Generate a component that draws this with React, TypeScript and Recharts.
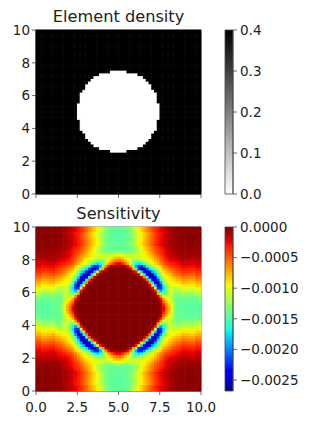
import { BarChart, Bar, ScatterChart, Scatter, XAxis, YAxis, ReferenceArea } from "recharts";

const GRID = 60;
const FONT = "DejaVu Sans";
const INK = "#222";
const SPINE = "#444";

const xTicksBottom = [0, 2.5, 5, 7.5, 10];
const yTicks = [0, 2, 4, 6, 8, 10];
const densityBarTicks = [0, 0.1, 0.2, 0.3, 0.4];
const sensBarTicks = [0, -0.0005, -0.001, -0.0015, -0.002, -0.0025];

const DENSITY_MAX = 0.4;
const SENS_MIN = -0.00268;

// half width (in cells) of the void in each row, going from the middle row outwards
const voidHalfWidths = [15, 15, 15, 14, 14, 14, 14, 13, 12, 12, 11, 10, 9, 7, 3];

// top-left quadrant of the sensitivity, upper triangle, magnitudes in 1e-5.
// rows go down from y=10, each row starts on the diagonal; anything missing is 0
const sensUpper = [
  [2, 2, 2, 2, 2, 2, 3, 3, 4, 5, 7, 10, 14, 18, 24, 30, 36, 44, 54, 64, 74, 84, 94, 104, 116, 128, 136, 141, 144, 144],
  [2, 2, 2, 2, 2, 3, 3, 4, 5, 7, 10, 14, 18, 23, 29, 35, 43, 53, 63, 73, 83, 93, 103, 115, 127, 136, 141, 144, 144],
  [2, 2, 2, 3, 3, 4, 5, 6, 9, 13, 17, 22, 28, 34, 42, 52, 62, 72, 82, 92, 102, 114, 126, 135, 140, 144, 145, 145],
  [2, 2, 3, 3, 4, 5, 6, 8, 12, 16, 21, 27, 33, 41, 51, 61, 71, 81, 91, 101, 113, 125, 134, 140, 144, 145, 145],
  [2, 3, 3, 4, 5, 6, 8, 11, 15, 20, 26, 32, 40, 50, 60, 70, 80, 90, 100, 112, 124, 134, 140, 144, 145, 145],
  [3, 3, 4, 5, 6, 8, 10, 14, 19, 25, 31, 38, 48, 58, 68, 78, 89, 99, 111, 123, 133, 139, 143, 144, 145],
  [3, 4, 5, 6, 8, 10, 13, 18, 24, 30, 37, 46, 56, 66, 76, 87, 98, 110, 122, 132, 138, 142, 143, 143],
  [5, 6, 8, 10, 13, 17, 23, 29, 36, 45, 54, 64, 75, 85, 96, 108, 120, 130, 136, 140, 142, 142, 142],
  [6, 8, 11, 15, 21, 27, 33, 40, 48, 56, 66, 76, 86, 97, 110, 122, 130, 136, 139, 140, 141, 140],
  [11, 14, 18, 24, 29, 36, 44, 52, 62, 72, 82, 92, 102, 112, 120, 126, 130, 133, 133, 130, 125],
  [14, 19, 25, 32, 40, 50, 60, 70, 80, 88, 94, 98, 102, 106, 110, 112, 112, 108, 102, 100],
  [22, 29, 38, 48, 60, 70, 80, 88, 94, 100, 105, 110, 113, 112, 107, 100, 92, 82, 75],
  [32, 42, 54, 66, 78, 88, 96, 104, 112, 122, 132, 136, 128, 112, 92, 76, 62, 55],
  [50, 62, 74, 86, 96, 106, 116, 135, 165, 175, 165, 140, 105, 72, 52, 34, 25],
  [80, 92, 110, 125, 140, 160, 195, 225, 225, 190, 125, 65, 28, 12, 8, 6],
  [110, 130, 150, 175, 215, 250, 255, 220, 150, 70, 20, 5, 2],
  [170, 190, 235, 260, 240, 180, 100, 30, 6, 1],
  [250, 265, 240, 170, 90, 25, 5],
  [240, 160, 60, 15, 3],
  [50, 10, 2],
  [3],
];

const JET_R = [[0, 0], [0.35, 0], [0.66, 1], [0.89, 1], [1, 0.5]];
const JET_G = [[0, 0], [0.125, 0], [0.375, 1], [0.64, 1], [0.91, 0], [1, 0]];
const JET_B = [[0, 0.5], [0.11, 1], [0.34, 1], [0.65, 0], [1, 0]];
const jetStops = [0, 0.11, 0.125, 0.34, 0.35, 0.375, 0.64, 0.65, 0.66, 0.89, 0.91, 1];

function channel(pts: number[][], t: number) {
  for (let i = 1; i < pts.length; i++) {
    if (t <= pts[i][0]) {
      const [x0, y0] = pts[i - 1];
      const [x1, y1] = pts[i];
      return y0 + ((t - x0) / (x1 - x0)) * (y1 - y0);
    }
  }
  return pts[pts.length - 1][1];
}

function jet(t: number) {
  const c = Math.max(0, Math.min(1, t));
  const to255 = (v: number) => Math.round(v * 255);
  return `rgb(${to255(channel(JET_R, c))},${to255(channel(JET_G, c))},${to255(channel(JET_B, c))})`;
}

function sensAt(row: number, col: number) {
  // fold the 60x60 grid onto the quadrant, then onto the triangle
  const r = row < GRID / 2 ? row : GRID - 1 - row;
  const c = col < GRID / 2 ? col : GRID - 1 - col;
  const a = Math.min(r, c);
  const b = Math.max(r, c);
  return -((sensUpper[a]?.[b - a] ?? 0) * 1e-5);
}

function isVoid(row: number, col: number) {
  const r = row < GRID / 2 ? GRID / 2 - 1 - row : row - GRID / 2;
  const half = voidHalfWidths[r] ?? 0;
  return col >= GRID / 2 - half && col < GRID / 2 + half;
}

const densityCells: { x: number; y: number; fill: string }[] = [];
const sensCells: { x: number; y: number; fill: string }[] = [];
for (let row = 0; row < GRID; row++) {
  for (let col = 0; col < GRID; col++) {
    const x = ((col + 0.5) * 10) / GRID;
    const y = 10 - ((row + 0.5) * 10) / GRID;
    densityCells.push({ x, y, fill: isVoid(row, col) ? "#fff" : "#000" });
    sensCells.push({ x, y, fill: jet((sensAt(row, col) - SENS_MIN) / -SENS_MIN) });
  }
}

const PLOT_W = 165;
const PLOT_H = 164;
const PAD = 8;
const cellW = PLOT_W / GRID + 0.6;
const cellH = PLOT_H / GRID + 0.6;

function CellRect(props: any) {
  const { cx, cy, payload } = props;
  return <rect x={cx - cellW / 2} y={cy - cellH / 2} width={cellW} height={cellH} fill={payload.fill} />;
}

const tickStyle = { fontFamily: FONT, fontSize: 13.5, fill: INK };
const axisLine = { stroke: SPINE, strokeWidth: 0.8 };

function Heatmap({ cells, top, showX }: { cells: typeof sensCells; top: number; showX: boolean }) {
  return (
    <div style={{ position: "absolute", left: 0, top: top - PAD }}>
      <ScatterChart width={230} height={PLOT_H + PAD + 30} margin={{ top: PAD, right: 29, bottom: 0, left: 8 }}>
        <XAxis
          type="number"
          dataKey="x"
          domain={[0, 10]}
          ticks={xTicksBottom}
          interval={0}
          height={30}
          tick={tickStyle}
          tickSize={4}
          tickMargin={7}
          axisLine={axisLine}
          tickLine={axisLine}
          tickFormatter={(v: number) => (showX ? v.toFixed(1) : "")}
        />
        <YAxis
          type="number"
          dataKey="y"
          domain={[0, 10]}
          ticks={yTicks}
          interval={0}
          width={28}
          tick={tickStyle}
          tickSize={4}
          tickMargin={2}
          axisLine={axisLine}
          tickLine={axisLine}
        />
        <Scatter data={cells} shape={CellRect} isAnimationActive={false} />
        <ReferenceArea x1={0} x2={10} y1={0} y2={10} fill="none" stroke={SPINE} strokeWidth={0.8} />
      </ScatterChart>
    </div>
  );
}

function ColorBar(props: {
  id: string;
  top: number;
  domain: number[];
  ticks: number[];
  format: (v: number) => string;
  stops: { offset: number; color: string }[];
}) {
  const { id, top, domain, ticks, format, stops } = props;
  const data = [{ name: id, range: domain }];
  return (
    <div style={{ position: "absolute", left: 216, top: top - PAD }}>
      <BarChart
        width={95}
        height={PLOT_H + 2 * PAD}
        data={data}
        margin={{ top: PAD, right: 0, bottom: PAD, left: 9 }}
        barCategoryGap={0}
      >
        <defs>
          <linearGradient id={id} x1="0" y1="1" x2="0" y2="0">
            {stops.map((s) => (
              <stop key={s.offset} offset={s.offset} stopColor={s.color} />
            ))}
          </linearGradient>
        </defs>
        <XAxis dataKey="name" hide />
        <YAxis
          orientation="right"
          type="number"
          domain={domain}
          ticks={ticks}
          interval={0}
          width={78}
          tick={{ ...tickStyle, textAnchor: "start" }}
          tickSize={4}
          tickMargin={3}
          axisLine={axisLine}
          tickLine={axisLine}
          tickFormatter={format}
        />
        <Bar dataKey="range" fill={`url(#${id})`} stroke={SPINE} strokeWidth={0.8} isAnimationActive={false} />
      </BarChart>
    </div>
  );
}

function Title({ text, top }: { text: string; top: number }) {
  return (
    <div
      style={{
        position: "absolute",
        left: 36,
        top,
        width: PLOT_W,
        textAlign: "center",
        fontFamily: FONT,
        fontSize: 16.2,
        lineHeight: "20px",
        color: INK,
      }}
    >
      {text}
    </div>
  );
}

export default function App() {
  return (
    <div style={{ position: "absolute", left: 0, top: 0, width: 311, height: 423, background: "#fff" }}>
      <Title text="Element density" top={7} />
      <Heatmap cells={densityCells} top={30} showX={false} />
      <ColorBar
        id="grayBar"
        top={30}
        domain={[0, DENSITY_MAX]}
        ticks={densityBarTicks}
        format={(v) => v.toFixed(1)}
        stops={[
          { offset: 0, color: "#fff" },
          { offset: 1, color: "#000" },
        ]}
      />
      <Title text="Sensitivity" top={204} />
      <Heatmap cells={sensCells} top={227} showX={true} />
      <ColorBar
        id="jetBar"
        top={227}
        domain={[SENS_MIN, 0]}
        ticks={sensBarTicks}
        format={(v) => (v === 0 ? "0.0000" : "\u2212" + Math.abs(v).toFixed(4))}
        stops={jetStops.map((t) => ({ offset: t, color: jet(t) }))}
      />
    </div>
  );
}
